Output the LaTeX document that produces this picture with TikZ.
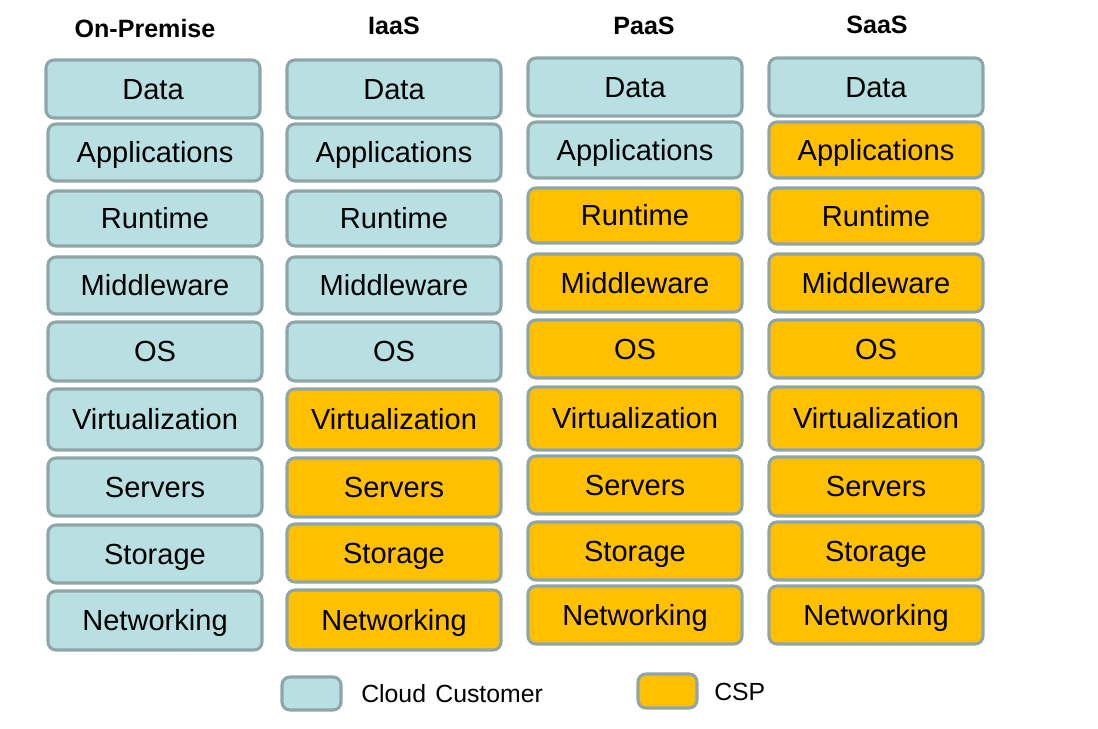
\documentclass[tikz,border=0pt]{standalone}
\usepackage{fontspec}
\setmainfont{Liberation Sans}
\definecolor{custc}{HTML}{B8DFE2}
\definecolor{cspc}{HTML}{FFC000}
\definecolor{bord}{HTML}{8FA6A9}
\tikzset{
  base/.style={draw=bord, line width=2.3pt, rounded corners=6pt, inner sep=0pt, outer sep=0pt,
    font=\fontsize{21.8}{25}\selectfont, text=black, text height=15pt, text depth=0pt},
  cust/.style={base, fill=custc},
  csp/.style={base, fill=cspc},
  title/.style={font=\fontsize{18.8}{22}\selectfont\bfseries, text=black},
  legtext/.style={font=\fontsize{18.6}{22}\selectfont, text=black, anchor=west, inner sep=0pt, text height=13.4pt, text depth=0pt}
}
\newcommand{\bx}[7]{%
  \node[#2, minimum width={(#5-#3)*0.75pt}, minimum height={(#6-#4)*0.75pt}]
    (#1) at ({(#3+#5)/2},{(#4+#6)/2}) {#7};}
\begin{document}
\begin{tikzpicture}[x=0.75pt,y=-0.75pt]
\useasboundingbox (0,0) rectangle (1098,728);
% titles
\node[title] (t1) at (145,29) {On-Premise};
\node[title] (t2) at (394,26) {IaaS};
\node[title] (t3) at (644,26) {PaaS};
\node[title] (t4) at (877,25) {SaaS};
% column 1
\bx{a1}{cust}{46}{60}{260}{118}{Data}
\bx{a2}{cust}{48}{124}{262}{181}{Applications}
\bx{a3}{cust}{48}{191}{262}{246}{Runtime}
\bx{a4}{cust}{48}{257}{262}{314}{Middleware}
\bx{a5}{cust}{48}{322}{262}{381}{OS}
\bx{a6}{cust}{48}{389}{262}{450}{Virtualization}
\bx{a7}{cust}{48}{458}{262}{516}{Servers}
\bx{a8}{cust}{48}{525}{262}{583}{Storage}
\bx{a9}{cust}{48}{591}{262}{650}{Networking}
% column 2
\bx{b1}{cust}{287}{60}{501}{118}{Data}
\bx{b2}{cust}{287}{124}{501}{181}{Applications}
\bx{b3}{cust}{287}{191}{501}{246}{Runtime}
\bx{b4}{cust}{287}{257}{501}{314}{Middleware}
\bx{b5}{cust}{287}{322}{501}{381}{OS}
\bx{b6}{csp}{287}{389}{501}{450}{Virtualization}
\bx{b7}{csp}{287}{458}{501}{517}{Servers}
\bx{b8}{csp}{287}{524}{501}{582}{Storage}
\bx{b9}{csp}{287}{590}{501}{650}{Networking}
% column 3
\bx{c1}{cust}{528}{58}{742}{116}{Data}
\bx{c2}{cust}{528}{122}{742}{178}{Applications}
\bx{c3}{csp}{528}{188}{742}{243}{Runtime}
\bx{c4}{csp}{528}{254}{742}{312}{Middleware}
\bx{c5}{csp}{528}{320}{742}{378}{OS}
\bx{c6}{csp}{528}{387}{742}{450}{Virtualization}
\bx{c7}{csp}{528}{456}{742}{514}{Servers}
\bx{c8}{csp}{528}{522}{742}{580}{Storage}
\bx{c9}{csp}{528}{586}{742}{644}{Networking}
% column 4
\bx{d1}{cust}{769}{58}{983}{116}{Data}
\bx{d2}{csp}{769}{122}{983}{178}{Applications}
\bx{d3}{csp}{769}{188}{983}{244}{Runtime}
\bx{d4}{csp}{769}{254}{983}{312}{Middleware}
\bx{d5}{csp}{769}{320}{983}{378}{OS}
\bx{d6}{csp}{769}{387}{983}{450}{Virtualization}
\bx{d7}{csp}{769}{457}{983}{516}{Servers}
\bx{d8}{csp}{769}{522}{983}{580}{Storage}
\bx{d9}{csp}{769}{586}{983}{644}{Networking}
% legend
\bx{l1}{cust}{282}{677}{341}{710}{}
\node[legtext] (l1t) at (361,694) {Cloud\hspace{0.1em} Customer};
\bx{l2}{csp}{638}{674}{697}{708}{}
\node[legtext] (l2t) at (714,692) {CSP};
\end{tikzpicture}
\end{document}
